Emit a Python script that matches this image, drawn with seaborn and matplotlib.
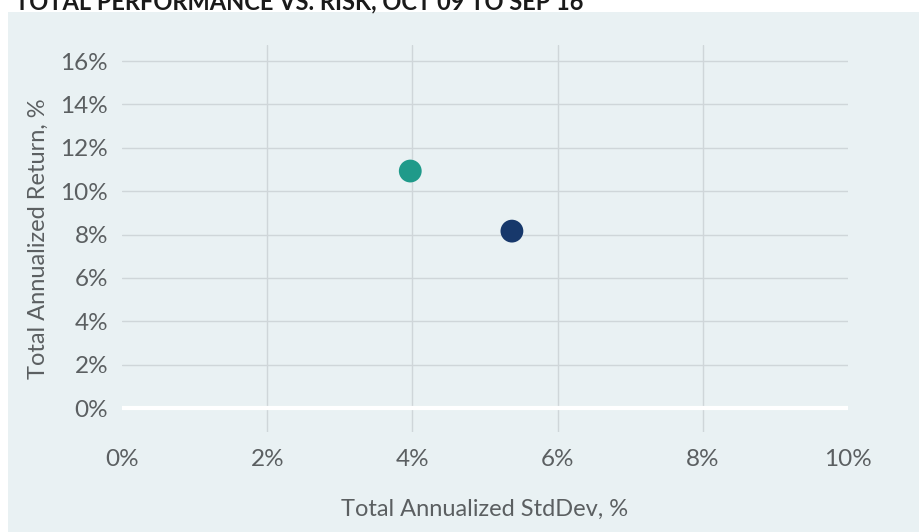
import seaborn as sns
import pandas as pd
import matplotlib.pyplot as plt
from matplotlib.patches import Rectangle
from matplotlib.ticker import PercentFormatter

# values
series = ['Fund', 'Benchmark']
std_dev = [3.97, 5.37]
ann_return = [10.93, 8.16]
colors = ['#1f9a8a', '#17386b']

x_ticks = [0, 2, 4, 6, 8, 10]
y_ticks = [0, 2, 4, 6, 8, 10, 12, 14, 16]

df = pd.DataFrame({'series': series, 'std': std_dev, 'ret': ann_return})

sns.set_style('white')
plt.rcParams['font.family'] = ['Lato', 'DejaVu Sans']

fig = plt.figure(figsize=(9.19, 5.32), dpi=100)
fig.patch.set_facecolor('white')
fig.patches.append(Rectangle((8 / 919, 0), 1, 1 - 12 / 532, transform=fig.transFigure,
                             facecolor='#e9f1f3', edgecolor='none', zorder=-5))

ax = fig.add_axes([0.1328, 0.188, 0.790, 0.7274])
ax.set_facecolor('none')

sns.scatterplot(data=df, x='std', y='ret', hue='series', palette=colors,
                s=270, edgecolor='none', legend=False, ax=ax, zorder=5)

ax.set_xlim(0, 10)
ax.set_ylim(-1.1, 16.74)
ax.set_xticks(x_ticks)
ax.set_yticks(y_ticks)
ax.xaxis.set_major_formatter(PercentFormatter(decimals=0))
ax.yaxis.set_major_formatter(PercentFormatter(decimals=0))

ax.grid(True, color='#cfd6d9', linewidth=1)
gx = ax.xaxis.get_gridlines()
gx[0].set_visible(False)
gx[-1].set_visible(False)
gy = ax.yaxis.get_gridlines()
gy[0].set_color('white')
gy[0].set_linewidth(3)
ax.set_axisbelow(True)

for s in ax.spines.values():
    s.set_visible(False)

ax.tick_params(axis='both', length=0, labelsize=17.5, labelcolor='#5b5f61')
ax.tick_params(axis='x', pad=12)
ax.tick_params(axis='y', pad=10)

ax.set_xlabel('Total Annualized StdDev, %', fontsize=17, color='#5b5f61', labelpad=21)
ax.set_ylabel('Total Annualized Return, %', fontsize=17, color='#5b5f61', labelpad=8)

fig.text(15 / 919, 1 - 9 / 532, 'TOTAL PERFORMANCE VS. RISK, OCT 09 TO SEP 16',
         fontsize=17, fontweight='bold', color='#1a1a1a', va='baseline', ha='left')

fig.savefig('out.png', dpi=100)
